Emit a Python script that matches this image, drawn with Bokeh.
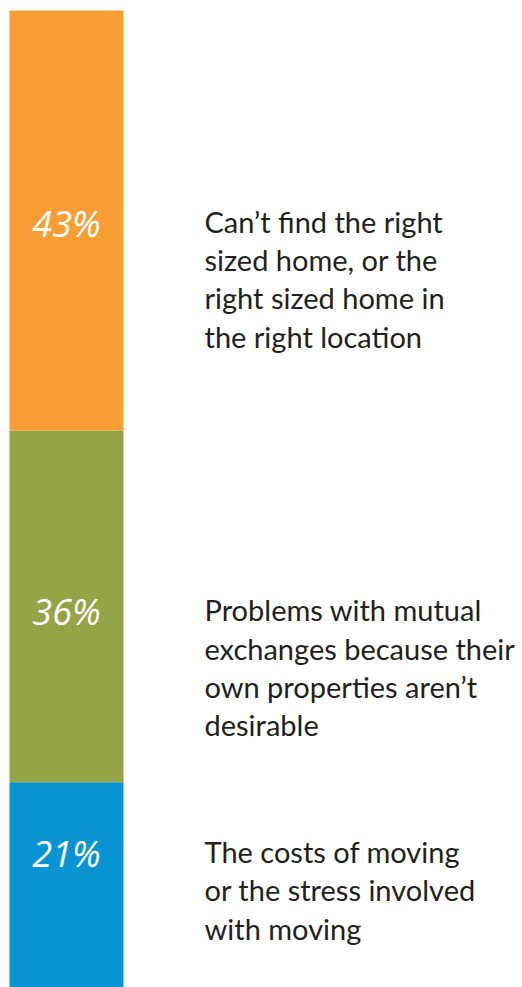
import numpy as np
from bokeh.plotting import figure
from bokeh.models import Range1d, ColumnDataSource
from bokeh.embed import file_html
from bokeh.resources import INLINE

# ---- data ----
categories = ["cost", "exchange", "size"]            # bottom -> top
shares = [21, 36, 43]
pct_labels = ["21%", "36%", "43%"]
descriptions = [
    "The costs of moving\nor the stress involved\nwith moving",
    "Problems with mutual\nexchanges because their\nown properties aren\u2019t\ndesirable",
    "Can\u2019t find the right\nsized home, or the\nright sized home in\nthe right location",
]
colors = ["#0893d3", "#95a447", "#f79d33"]

# ---- layout / style ----
W, H = 522, 987
BAR_LEFT, BAR_RIGHT = 9, 123
PLOT_TOP_PX = 10
TEXT_X = 204
pct_offsets_px = [31.4, -5.5, -2.5]   # vertical nudges (up = +) of each annotation row
label_above_px = 19.5

vals = np.array(shares, dtype=float)
tops = np.cumsum(vals)
bottoms = tops - vals
total = tops[-1]
px_per_unit = (H - PLOT_TOP_PX) / total
y_end = total + PLOT_TOP_PX / px_per_unit

p = figure(width=W, height=H, output_backend="svg", toolbar_location=None,
           x_range=Range1d(0, W), y_range=Range1d(0, y_end),
           min_border=0, min_border_left=0, min_border_right=0,
           min_border_top=0, min_border_bottom=0)
p.axis.visible = False
p.grid.visible = False
p.outline_line_color = None
p.background_fill_color = "white"
p.border_fill_color = "white"

bar_x = (BAR_LEFT + BAR_RIGHT) / 2
bar_w = BAR_RIGHT - BAR_LEFT
src = ColumnDataSource(dict(x=[bar_x] * len(vals), bottom=bottoms, top=tops, color=colors))
p.vbar(x="x", bottom="bottom", top="top", width=bar_w, color="color", line_color=None, source=src)

centers = (bottoms + tops) / 2
label_y = centers + np.array(pct_offsets_px) / px_per_unit

tsrc = ColumnDataSource(dict(x=[bar_x] * len(vals), y=label_y, t=pct_labels))
p.text(x="x", y="y", text="t", source=tsrc, text_color="white",
       text_font={"value": "Open Sans"}, text_font_style="italic",
       text_font_size="36px", text_align="center", text_baseline="middle")

dsrc = ColumnDataSource(dict(x=[TEXT_X] * len(vals), y=label_y + label_above_px / px_per_unit, t=descriptions))
p.text(x="x", y="y", text="t", source=dsrc, text_color="#231f20",
       text_font={"value": "Lato"}, text_font_size="29px",
       text_align="left", text_baseline="top", text_line_height=1.095)

open("out.html", "w").write(file_html(p, INLINE))
